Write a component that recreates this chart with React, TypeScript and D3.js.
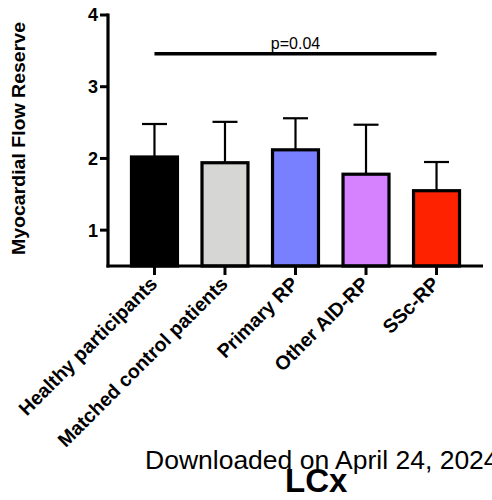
import React from "react";
import * as d3 from "d3";

// Group names, mean myocardial flow reserve and SD (upper error bar only)
const groups = [
  "Healthy participants",
  "Matched control patients",
  "Primary RP",
  "Other AID-RP",
  "SSc-RP",
];
const means = [2.02, 1.94, 2.12, 1.78, 1.55];
const sds = [0.46, 0.57, 0.44, 0.69, 0.4];
const barColors = ["#000000", "#d6d6d4", "#7880ff", "#d682ff", "#ff2200"];
const yTicks = [1, 2, 3, 4];

// Significance bracket between the first and last groups
const sigFrom = "Healthy participants";
const sigTo = "SSc-RP";
const sigValue = 3.46;
const sigLabel = "p=0.04";

const W = 492;
const H = 500;
const FONT = "'Liberation Sans', Arial, Helvetica, sans-serif";

export default function App() {
  const x = d3
    .scaleBand<string>()
    .domain(groups)
    .range([108, 483])
    .paddingInner(0.348)
    .paddingOuter(0.333);
  const y = d3.scaleLinear().domain([0.5, 4]).range([266, 15]);
  const cx = (g: string) => (x(g) as number) + x.bandwidth() / 2;
  const capHalf = 12.5;
  const baseY = y(0.5);

  return (
    <svg
      width={W}
      height={H}
      style={{ position: "absolute", left: 0, top: 0, background: "#fff" }}
      fontFamily={FONT}
    >
      <rect x={0} y={0} width={W} height={H} fill="#fff" />

      {/* error bars (upper SD) */}
      {groups.map((g, i) => (
        <g key={"err" + g} stroke="#000" strokeWidth={2.2}>
          <line x1={cx(g)} x2={cx(g)} y1={y(means[i])} y2={y(means[i] + sds[i])} />
          <line
            x1={cx(g) - capHalf}
            x2={cx(g) + capHalf}
            y1={y(means[i] + sds[i])}
            y2={y(means[i] + sds[i])}
          />
        </g>
      ))}

      {/* bars */}
      {groups.map((g, i) => (
        <rect
          key={"bar" + g}
          x={x(g)}
          y={y(means[i])}
          width={x.bandwidth()}
          height={baseY - y(means[i])}
          fill={barColors[i]}
          stroke="#000"
          strokeWidth={3.2}
        />
      ))}

      {/* y axis */}
      <line x1={108} x2={108} y1={y(4) - 1.5} y2={baseY + 1.5} stroke="#000" strokeWidth={3.2} />
      {yTicks.map((t) => (
        <g key={"yt" + t}>
          <line x1={100} x2={108} y1={y(t)} y2={y(t)} stroke="#000" strokeWidth={3} />
          <text
            x={98}
            y={y(t)}
            dy="0.36em"
            textAnchor="end"
            fontSize={18}
            fontWeight="bold"
            fill="#000"
          >
            {t}
          </text>
        </g>
      ))}

      {/* x axis */}
      <line x1={106.5} x2={483} y1={baseY} y2={baseY} stroke="#000" strokeWidth={3.2} />
      {groups.map((g) => (
        <g key={"xt" + g}>
          <line x1={cx(g)} x2={cx(g)} y1={baseY} y2={baseY + 9} stroke="#000" strokeWidth={3} />
          <text
            transform={`translate(${cx(g) + 4},${baseY + 19}) rotate(-45)`}
            textAnchor="end"
            fontSize={19.5}
            fontWeight="bold"
            fill="#000"
          >
            {g}
          </text>
        </g>
      ))}

      {/* y axis title */}
      <text
        transform={`translate(25,138.5) rotate(-90)`}
        textAnchor="middle"
        fontSize={19}
        fontWeight="bold"
        fill="#000"
        textLength={233}
        lengthAdjust="spacingAndGlyphs"
      >
        Myocardial Flow Reserve
      </text>

      {/* significance bracket */}
      <line
        x1={cx(sigFrom)}
        x2={cx(sigTo)}
        y1={y(sigValue)}
        y2={y(sigValue)}
        stroke="#000"
        strokeWidth={3.5}
      />
      <text
        x={(cx(sigFrom) + cx(sigTo)) / 2}
        y={y(sigValue) - 4.5}
        textAnchor="middle"
        fontSize={16}
        fill="#000"
      >
        {sigLabel}
      </text>

      {/* footer */}
      <text x={145} y={469} fontSize={26.5} fill="#000">
        Downloaded on April 24, 2024
      </text>
      <text x={285} y={492} fontSize={33} fontWeight="bold" fill="#000">
        LCx
      </text>
    </svg>
  );
}
